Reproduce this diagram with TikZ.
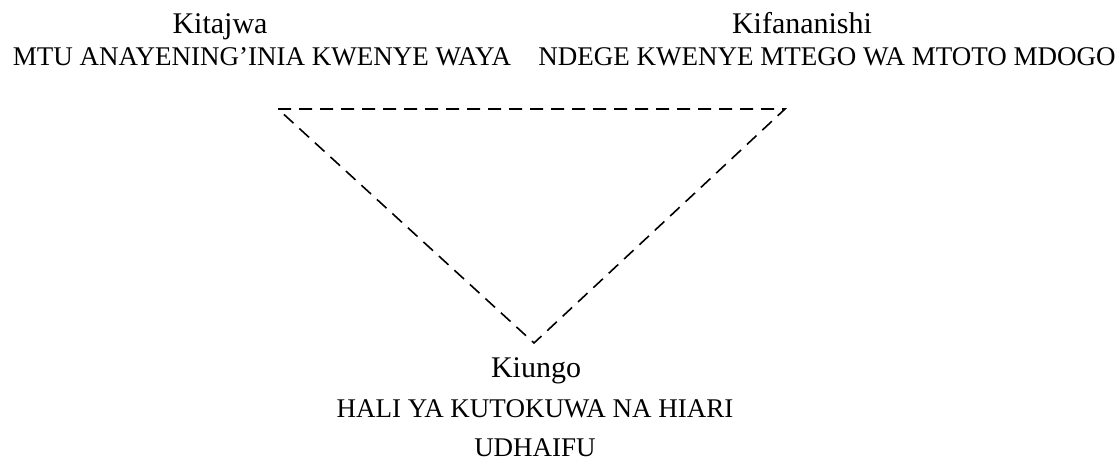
\documentclass[tikz,border=0pt]{standalone}
\usepackage{fontspec}
\setmainfont{Liberation Serif}
\begin{document}
\begin{tikzpicture}[x=1pt,y=-1pt,
  head/.style={anchor=base,inner sep=0pt,font=\fontsize{30}{36}\selectfont},
  caps/.style={anchor=base,inner sep=0pt,font=\fontsize{27}{32}\selectfont},
  tri/.style={line width=1.6pt,dash pattern=on 13pt off 8pt}]
\useasboundingbox (0,0) rectangle (1119,460);
\node[head] (t1) at (220,34) {Kitajwa};
\node[caps] (t1b) at (262,66) {MTU ANAYENING’INIA KWENYE WAYA};
\node[head] (t2) at (802,34) {Kifananishi};
\node[caps] (t2b) at (827,66) {NDEGE KWENYE MTEGO WA MTOTO MDOGO};
\node[head] (t3) at (536,377) {Kiungo};
\node[caps] (t3b) at (535,417) {HALI YA KUTOKUWA NA HIARI};
\node[caps] (t3c) at (535,456.5) {UDHAIFU};
\coordinate (a) at (278,109);
\coordinate (b) at (785,109);
\coordinate (c) at (534,343);
\draw[tri] (a) -- (b) -- (c) -- cycle;
\end{tikzpicture}
\end{document}
